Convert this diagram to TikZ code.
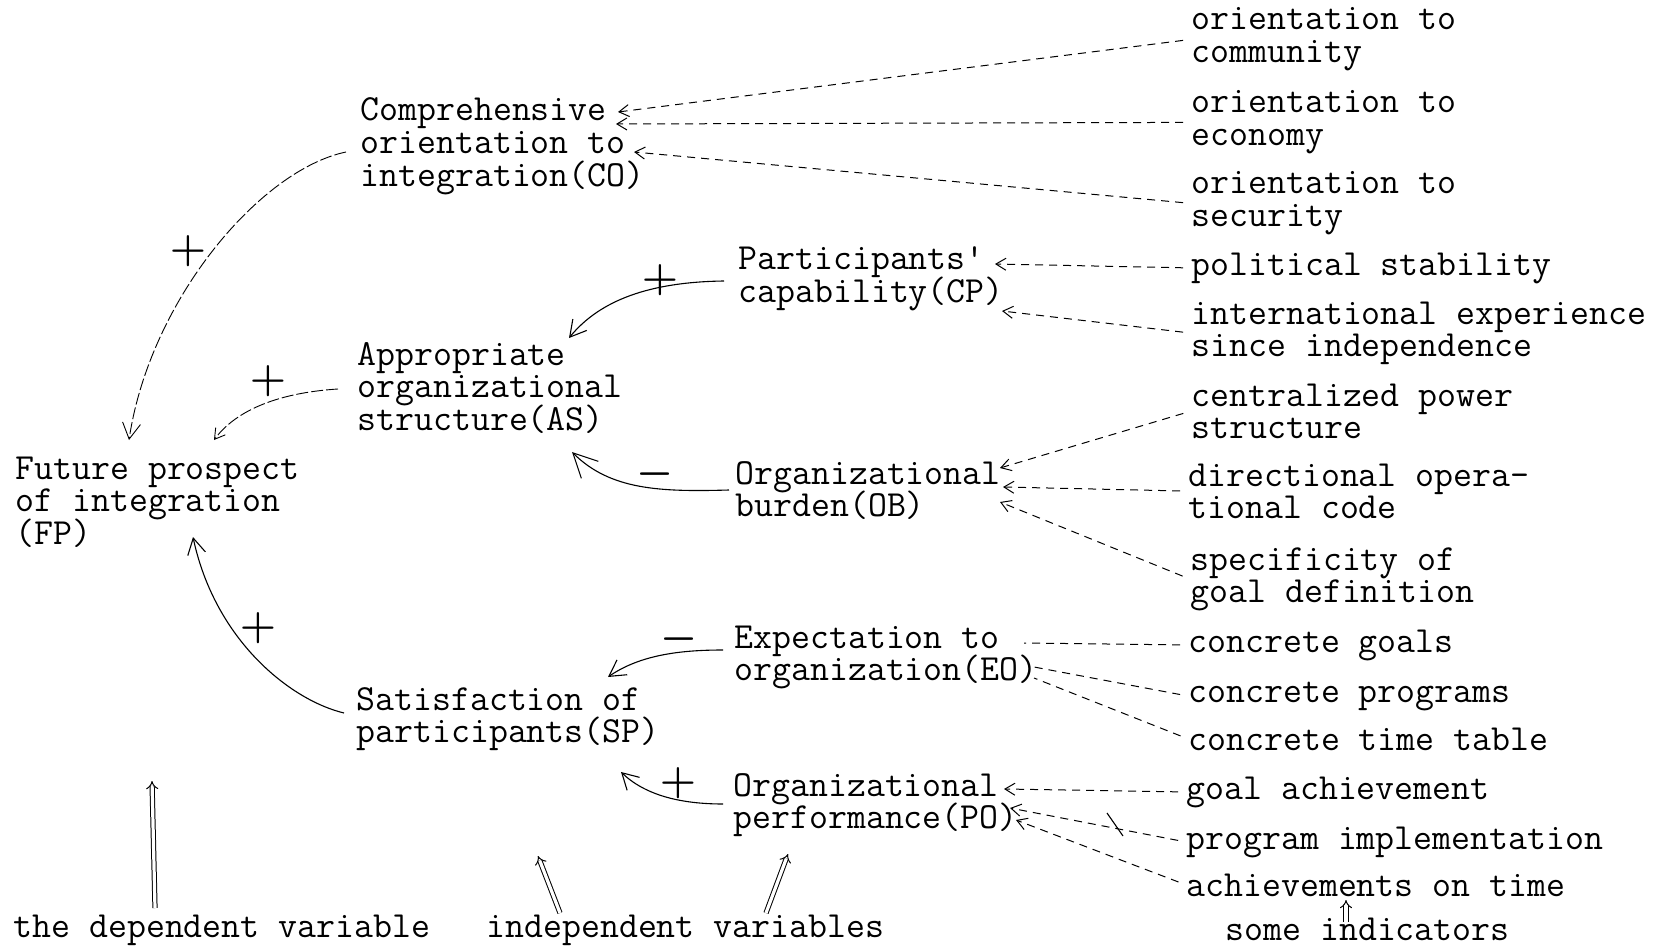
\documentclass[tikz,border=0pt]{standalone}
\usepackage{fontspec}
\setmonofont{Latin Modern Mono}[Ligatures=TeXOff]
\usetikzlibrary{arrows.meta}
\newcommand\tlines[1]{\vtop{\baselineskip=16.25pt\lineskiplimit=-100pt\lineskip=0pt\halign{##\hfil\cr#1\crcr}}}
\begin{document}
\begin{tikzpicture}[x=0.5pt,y=-0.5pt,
  txt/.style={inner sep=0pt, anchor=base west, font=\ttfamily\fontsize{18.4}{16.25}\selectfont},
  sgn/.style={inner sep=0pt, font=\fontsize{21}{21}\selectfont\boldmath},
  conn/.style={line width=0.55pt},
  dsh/.style={line width=0.5pt, dash pattern=on 4pt off 3pt},
  fad/.style={line width=0.45pt, dash pattern=on 6pt off 1.5pt},
  tip/.style={-{Straight Barb[length=5pt,width=6pt]}},
  bigtip/.style={-{Straight Barb[length=8pt,width=9pt]}},
  hugetip/.style={-{Straight Barb[length=12pt,width=12pt]}},
  dbl/.style={double, double distance=1.6pt, line width=0.5pt, -{Implies}},
  ind/.style={dsh, shorten <=4pt}
]
\fill[white] (0,0) rectangle (1656,947);
\useasboundingbox (0,0) rectangle (1656,947);

% middle and left nodes
\node[txt] (CO) at (360,121) {\tlines{Comprehensive\cr orientation to\cr integration(CO)}};
\node[txt] (FP) at (15,479) {\tlines{Future prospect\cr of integration\cr (FP)}};
\node[txt] (AS) at (357,365) {\tlines{Appropriate\cr organizational\cr structure(AS)}};
\node[txt] (SP) at (356,710) {\tlines{Satisfaction of\cr participants(SP)}};
\node[txt] (CP) at (738,270) {\tlines{Participants'\cr capability(CP)}};
\node[txt] (OB) at (735,484) {\tlines{Organizational\cr burden(OB)}};
\node[txt] (EO) at (734,648) {\tlines{Expectation to\cr organization(EO)}};
\node[txt] (PO) at (733,796) {\tlines{Organizational\cr performance(PO)}};

% right column
\node[txt] (r1) at (1191,30) {\tlines{orientation to\cr community}};
\node[txt] (r2) at (1191,113) {\tlines{orientation to\cr economy}};
\node[txt] (r3) at (1191,194) {\tlines{orientation to\cr security}};
\node[txt] (r4) at (1191,275) {political stability};
\node[txt] (r5) at (1191,324) {\tlines{international experience\cr since independence}};
\node[txt] (r6) at (1191,406) {\tlines{centralized power\cr structure}};
\node[txt] (r7) at (1188,486) {\tlines{directional opera-\cr tional code}};
\node[txt] (r8) at (1190,570) {\tlines{specificity of\cr goal definition}};
\node[txt] (r9) at (1188,652) {concrete goals};
\node[txt] (r10) at (1188,702) {concrete programs};
\node[txt] (r11) at (1188,750) {concrete time table};
\node[txt] (r12) at (1186,799) {goal achievement};
\node[txt] (r13) at (1186,849) {program implementation};
\node[txt] (r14) at (1186,896) {achievements on time};

% bottom labels
\node[txt] (dep) at (13,937) {the dependent variable};
\node[txt] (indep) at (486,937) {independent variables};
\node[txt] (some) at (1225,940) {some indicators};

% attachment points
\coordinate (COa) at (618,112);
\coordinate (COb) at (616,124);
\coordinate (COc) at (634,152);
\coordinate (CPa) at (995,264);
\coordinate (CPb) at (1002,311);
\coordinate (OBa) at (1000,468);
\coordinate (OBb) at (1003,487);
\coordinate (OBc) at (1000,502);
\coordinate (EOa) at (1024,643);
\coordinate (EOb) at (1034,667);
\coordinate (EOc) at (1034,678);
\coordinate (POa) at (1004,789);
\coordinate (POb) at (1010,808);
\coordinate (POc) at (1016,820);

% indicator connectors
\draw[ind,tip] (r1.west) -- (COa);
\draw[ind,tip] (r2.west) -- (COb);
\draw[ind,tip] (r3.west) -- (COc);
\draw[ind,tip] (r4.west) -- (CPa);
\draw[ind,tip] (r5.west) -- (CPb);
\draw[ind,tip] (r6.west) -- (OBa);
\draw[ind,tip] (r7.west) -- (OBb);
\draw[ind,tip] (r8.west) -- (OBc);
\draw[ind] (r9.west) -- (EOa);
\draw[ind] (r10.west) -- (EOb);
\draw[ind] (r11.west) -- (EOc);
\draw[ind,tip] (r12.west) -- (POa);
\draw[ind,tip] (r13.west) -- (POb);
\draw[ind,tip] (r14.west) -- (POc);
\draw[conn] (1107,813) -- (1123,836);

% causal connectors
\coordinate (COs) at (346,152);
\coordinate (FPt1) at (129,440);
\draw[fad,bigtip] (COs) .. controls (260,170) and (150,300) .. (FPt1);
\coordinate (ASs) at (338,389);
\coordinate (FPt2) at (214,440);
\draw[fad,tip] (ASs) .. controls (290,392) and (240,405) .. (FPt2);
\coordinate (CPs) at (724,281);
\coordinate (ASt1) at (569,338);
\draw[conn,bigtip] (CPs) .. controls (650,282) and (600,300) .. (ASt1);
\coordinate (OBs) at (729,490);
\coordinate (ASt2) at (572,452);
\draw[conn,hugetip] (OBs) .. controls (660,492) and (610,490) .. (ASt2);
\coordinate (EOs) at (723,650);
\coordinate (SPt1) at (608,677);
\draw[conn,bigtip] (EOs) .. controls (680,650) and (640,655) .. (SPt1);
\coordinate (POs) at (723,804);
\coordinate (SPt2) at (621,772);
\draw[conn,bigtip] (POs) .. controls (680,804) and (645,795) .. (SPt2);
\coordinate (SPs) at (344,713);
\coordinate (FPt3) at (193,537);
\draw[conn,bigtip] (SPs) .. controls (290,700) and (215,640) .. (FPt3);

% signs
\node[sgn] (s1) at (188,251) {$+$};
\node[sgn] (s2) at (660,280) {$+$};
\node[sgn] (s3) at (268,381) {$+$};
\node[sgn] (s4) at (655,474) {$-$};
\node[sgn] (s5) at (258,628) {$+$};
\node[sgn] (s6) at (679,639) {$-$};
\node[sgn] (s7) at (678,783) {$+$};

% label arrows
\coordinate (d1) at (155,908);
\coordinate (d2) at (152,781);
\draw[dbl] (d1) -- (d2);
\coordinate (i1) at (560,913);
\coordinate (i2) at (538,856);
\draw[dbl] (i1) -- (i2);
\coordinate (i3) at (766,913);
\coordinate (i4) at (788,854);
\draw[dbl] (i3) -- (i4);
\coordinate (k1) at (1346,922);
\coordinate (k2) at (1346,900);
\draw[dbl] (k1) -- (k2);
\end{tikzpicture}
\end{document}
